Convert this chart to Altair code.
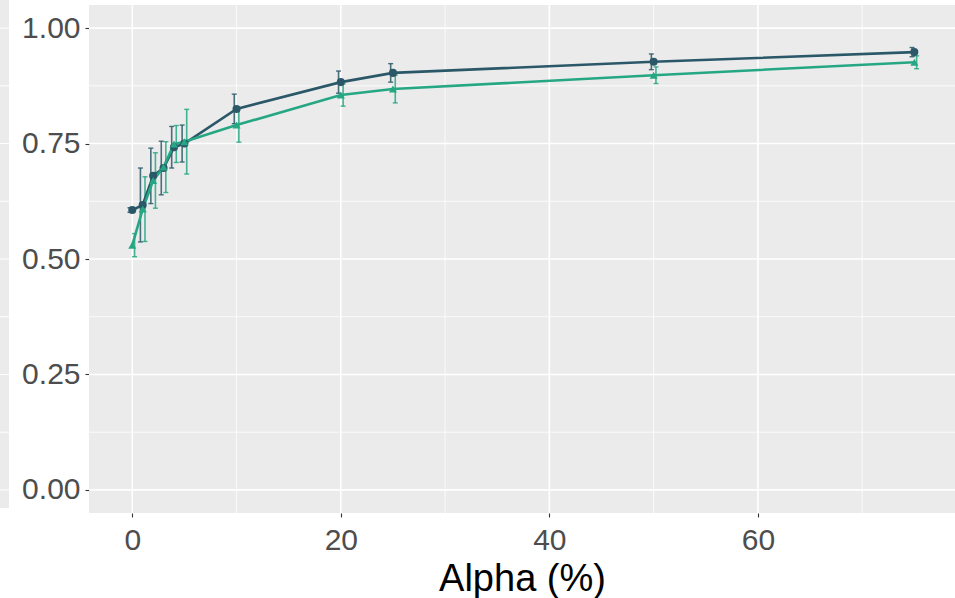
import altair as alt
import pandas as pd

# Alpha levels (%) and the two series' means with their error half-widths
alpha = [0, 1, 2, 3, 4, 5, 10, 20, 25, 50, 75]
series_names = ["Method A", "Method B"]
mean_a = [0.606, 0.617, 0.680, 0.697, 0.742, 0.750, 0.825, 0.883, 0.903, 0.927, 0.948]
err_a = [0.005, 0.080, 0.060, 0.058, 0.045, 0.040, 0.032, 0.024, 0.020, 0.017, 0.010]
mean_b = [0.530, 0.608, 0.670, 0.699, 0.749, 0.754, 0.790, 0.855, 0.868, 0.898, 0.926]
err_b = [0.025, 0.070, 0.060, 0.055, 0.040, 0.070, 0.037, 0.024, 0.030, 0.018, 0.014]

# Gridline positions
y_major = [0.0, 0.25, 0.5, 0.75, 1.0]
y_minor = [0.125, 0.375, 0.625, 0.875]
x_major = [0, 20, 40, 60]
x_minor = [10, 30, 50, 70]

colors = ["#2B5868", "#26A783"]
dodge = {"Method A": -0.22, "Method B": 0.22}

rows = []
for name, means, errs in [("Method A", mean_a, err_a), ("Method B", mean_b, err_b)]:
    for a, m, e in zip(alpha, means, errs):
        rows.append({"alpha": a, "mean": m, "lo": m - e, "hi": m + e,
                     "xe": a + dodge[name], "series": name})
df = pd.DataFrame(rows)

X_DOMAIN = [-4.15, 78.9]
Y_DOMAIN = [-0.05, 1.05]

xs = alt.Scale(domain=X_DOMAIN, nice=False, zero=False)
ys = alt.Scale(domain=Y_DOMAIN, nice=False, zero=False)

color = alt.Color("series:N", scale=alt.Scale(domain=series_names, range=colors), legend=None)
shape = alt.Shape("series:N", scale=alt.Scale(domain=series_names, range=["circle", "triangle-up"]), legend=None)

x_axis = alt.Axis(values=x_major, grid=False, domain=False, labelFontSize=30, labelColor="#4D4D4D",
                  labelFont="Liberation Sans", tickColor="#333333", tickSize=4, tickWidth=1.1,
                  labelPadding=8, title="Alpha (%)", titleFontSize=38, titleFont="Liberation Sans",
                  titleFontWeight="normal", titleColor="#000000", titleBaseline="alphabetic", titleY=77)
y_axis = alt.Axis(values=y_major, grid=False, domain=False, labelFontSize=30, labelColor="#4D4D4D",
                  labelFont="Liberation Sans", tickColor="#333333", tickSize=4, tickWidth=1.1,
                  labelPadding=5, title=None, format=".2f", labelBaseline="middle")


def X(field):
    return alt.X(field, scale=xs, axis=x_axis, title="Alpha (%)")


def Y(field):
    return alt.Y(field, scale=ys, axis=y_axis, title=None)


# Neighbouring panel edge on the far left
strip_bg = alt.Chart(pd.DataFrame({"top": [1.0608], "bot": [-0.039]})).mark_rect(color="#EBEBEB").encode(
    x=alt.value(-89), x2=alt.value(-80),
    y=Y("top:Q"), y2="bot:Q"
)
strip_lines = alt.Chart(pd.DataFrame({"v": y_major + y_minor})).mark_rule(color="white", strokeWidth=1).encode(
    y=Y("v:Q"), x=alt.value(-89), x2=alt.value(-80)
)

grid_minor_y = alt.Chart(pd.DataFrame({"v": y_minor})).mark_rule(color="white", strokeWidth=0.8).encode(
    y=Y("v:Q"))
grid_minor_x = alt.Chart(pd.DataFrame({"v": x_minor})).mark_rule(color="white", strokeWidth=0.8).encode(
    x=X("v:Q"))
grid_major_y = alt.Chart(pd.DataFrame({"v": y_major})).mark_rule(color="white", strokeWidth=1.6).encode(
    y=Y("v:Q"))
grid_major_x = alt.Chart(pd.DataFrame({"v": x_major})).mark_rule(color="white", strokeWidth=1.6).encode(
    x=X("v:Q"))

base = alt.Chart(df)

err_rule = base.mark_rule(strokeWidth=1.6, opacity=0.85).encode(
    x=X("xe:Q"), y=Y("lo:Q"), y2="hi:Q", color=color)
cap_top = base.mark_tick(orient="horizontal", size=5, thickness=1.4, opacity=0.85).encode(
    x=X("xe:Q"), y=Y("hi:Q"), color=color)
cap_bot = base.mark_tick(orient="horizontal", size=5, thickness=1.4, opacity=0.85).encode(
    x=X("xe:Q"), y=Y("lo:Q"), color=color)

lines = base.mark_line(strokeWidth=2.6).encode(
    x=X("alpha:Q"), y=Y("mean:Q"),
    color=color, detail="series:N", order="alpha:Q")
points = base.mark_point(filled=True, size=65, opacity=1).encode(
    x=X("alpha:Q"), y=Y("mean:Q"),
    color=color, shape=shape)

chart = alt.layer(
    strip_bg, strip_lines, grid_minor_y, grid_minor_x, grid_major_y, grid_major_x,
    err_rule, cap_top, cap_bot, lines, points
).properties(
    width=866, height=508,
    autosize=alt.AutoSizeParams(type="none"),
    padding={"left": 89, "top": 5, "right": 0, "bottom": 85},
    background="white",
).configure_view(fill="#EBEBEB", stroke=None)

chart.save("out.html", embed_options={"renderer": "svg", "actions": False})
